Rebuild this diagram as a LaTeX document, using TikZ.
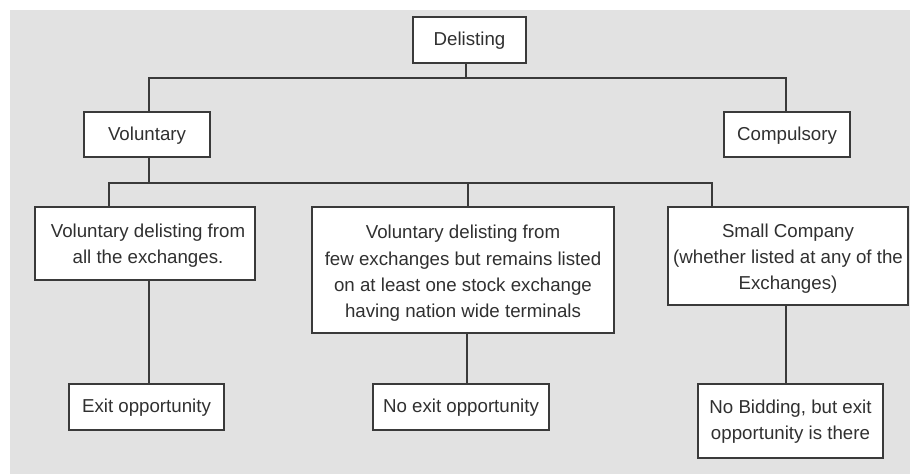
\documentclass[tikz,border=0pt]{standalone}
\usepackage{fontspec}
\setmainfont{Liberation Sans}
\definecolor{bgc}{HTML}{E2E2E2}
\definecolor{linec}{HTML}{3A3A3A}
\definecolor{textc}{HTML}{303030}
\begin{document}
\begin{tikzpicture}[x=1pt,y=-1pt,
  box/.style={draw=linec, line width=1.8pt, fill=white, inner sep=0pt},
  txt/.style={inner sep=0pt, align=center, text=textc,
    font=\fontsize{18.7}{26.3}\selectfont},
  conn/.style={draw=linec, line width=1.8pt}]
\useasboundingbox (0,0) rectangle (910,474);
\fill[bgc] (10,10) rectangle (910,474);
% boxes
\node[box, minimum width=113pt, minimum height=46pt] (del) at (469.5,40) {};
\node[box, minimum width=126pt, minimum height=45pt] (vol) at (147,134.5) {};
\node[box, minimum width=126pt, minimum height=45pt] (com) at (787,134.5) {};
\node[box, minimum width=220pt, minimum height=73pt] (A) at (145,243.5) {};
\node[box, minimum width=302pt, minimum height=126pt] (B) at (463,270) {};
\node[box, minimum width=240pt, minimum height=98pt] (C) at (788,256) {};
\node[box, minimum width=155pt, minimum height=46pt] (exit) at (146.5,407) {};
\node[box, minimum width=176pt, minimum height=46pt] (noexit) at (461,407) {};
\node[box, minimum width=185pt, minimum height=74pt] (nobid) at (790.5,421) {};
% texts
\node[txt] (tdel) at ([yshift=-1pt]del.center) {Delisting};
\node[txt] (tvol) at ([yshift=-1.5pt]vol.center) {Voluntary};
\node[txt] (tcom) at ([yshift=-1.5pt]com.center) {Compulsory};
\node[txt] (tA) at ([xshift=3pt,yshift=-2pt]A.center) {Voluntary delisting from\\all the exchanges.};
\node[txt] (tB) at ([yshift=-3.5pt]B.center) {Voluntary delisting from\\few exchanges but remains listed\\on at least one stock exchange\\having nation wide terminals};
\node[txt] (tC) at ([yshift=-2.5pt]C.center) {Small Company\\(whether listed at any of the\\Exchanges)};
\node[txt] (texit) at ([yshift=-0.5pt]exit.center) {Exit opportunity};
\node[txt] (tnoexit) at ([yshift=-0.5pt]noexit.center) {No exit opportunity};
\node[txt] (tnobid) at ([yshift=-0.5pt]nobid.center) {No Bidding, but exit\\opportunity is there};
% junctions
\coordinate (j1) at (466,78);
\coordinate (j2) at (149,183);
% connectors
\draw[conn] ([xshift=-3.5pt]del.south) -- ([xshift=-3.5pt]del.south |- j1);
\draw[conn] ([xshift=2pt]vol.north) |- (j1) -| ([xshift=-1pt]com.north);
\draw[conn] ([xshift=2pt]vol.south) -- (j2);
\draw[conn] ([xshift=75pt]A.north west) |- (j2) -| ([xshift=45pt]C.north west);
\draw[conn] ([xshift=5pt]B.north) -- ([xshift=5pt]B.north |- j2);
\draw[conn] ([xshift=2.5pt]exit.north) -- ([xshift=2.5pt]exit.north |- A.south);
\draw[conn] ([xshift=4pt]B.south) -- ([xshift=4pt]B.south |- noexit.north);
\draw[conn] ([xshift=-2pt]C.south) -- ([xshift=-2pt]C.south |- nobid.north);
\end{tikzpicture}
\end{document}
